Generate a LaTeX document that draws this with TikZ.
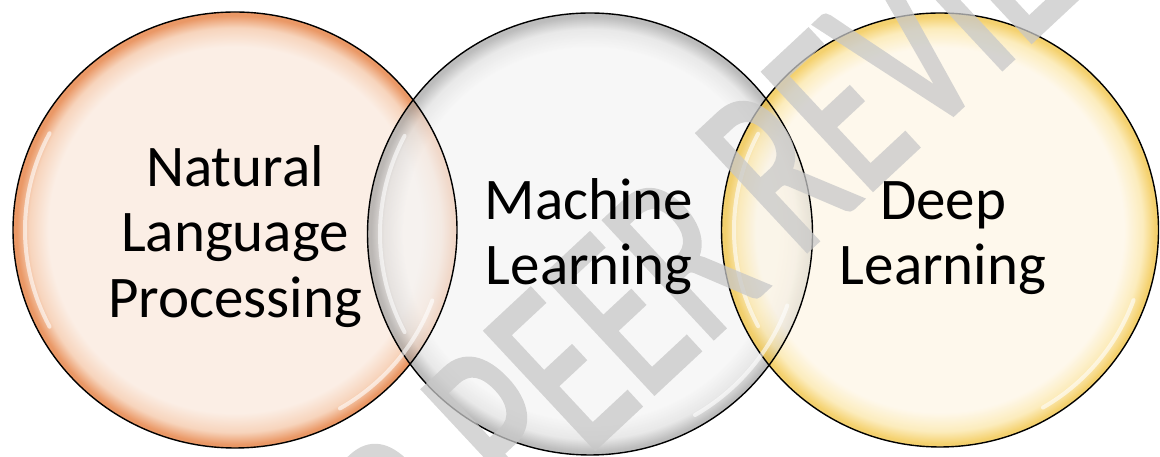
\documentclass[tikz,border=0pt]{standalone}
\usepackage{fontspec}
\setmainfont{Carlito}
\newfontfamily\wmfont[FakeBold=2]{Carlito}
\usetikzlibrary{shapes.geometric}
\definecolor{oin}{RGB}{251,238,229}
\definecolor{omid}{RGB}{247,212,188}
\definecolor{orim}{RGB}{234,152,102}
\definecolor{gin}{RGB}{244,244,244}
\definecolor{gmid}{RGB}{222,222,222}
\definecolor{grim}{RGB}{160,160,160}
\definecolor{yin}{RGB}{253,245,228}
\definecolor{ymid}{RGB}{251,228,160}
\definecolor{yrim}{RGB}{240,190,50}
\definecolor{wm}{RGB}{200,200,200}
\pgfdeclareradialshading{orangeglass}{\pgfpoint{0bp}{0bp}}{color(0bp)=(oin); color(21bp)=(oin); color(23.2bp)=(omid); color(24.6bp)=(orim); color(25bp)=(orim); color(50bp)=(orim)}
\pgfdeclareradialshading{grayglass}{\pgfpoint{0bp}{0bp}}{color(0bp)=(gin); color(21bp)=(gin); color(23.2bp)=(gmid); color(24.6bp)=(grim); color(25bp)=(grim); color(50bp)=(grim)}
\pgfdeclareradialshading{yellowglass}{\pgfpoint{0bp}{0bp}}{color(0bp)=(yin); color(21bp)=(yin); color(23.2bp)=(ymid); color(24.6bp)=(yrim); color(25bp)=(yrim); color(50bp)=(yrim)}
\begin{document}
\begin{tikzpicture}[x=1pt,y=1pt,
  bubble/.style={ellipse, inner sep=0pt, outer sep=0pt},
  rim/.style={draw=black, line width=1.4pt},
  lbl/.style={font=\fontsize{59}{65}\selectfont, inner sep=0pt, anchor=base, text=black},
  gloss/.style={white, line width=4pt, line cap=round, opacity=0.6},
  wmtext/.style={font=\wmfont\fontsize{166}{166}\selectfont, text=wm, inner sep=0pt}]
\useasboundingbox (0,0) rectangle (1160,457);
\clip (0,0) rectangle (1160,457);
% circle fills
\node[bubble, shading=orangeglass, minimum width=444pt, minimum height=436pt] (nlp) at (235,227) {};
\node[bubble, shading=grayglass, fill opacity=0.7, minimum width=445pt, minimum height=442pt] (ml) at (590,223) {};
\node[bubble, shading=yellowglass, fill opacity=0.7, minimum width=437pt, minimum height=434pt] (dl) at (940,227) {};
% borders
\draw[rim] (nlp.center) ellipse[x radius=222, y radius=218];
\draw[rim] (ml.center) ellipse[x radius=222.5, y radius=221];
\draw[rim] (dl.center) ellipse[x radius=218.5, y radius=217];
% gloss highlights
\draw[gloss] (nlp.center) ++(152:210 and 206) arc[start angle=152, end angle=208, x radius=210, y radius=206];
\draw[gloss] (nlp.center) ++(300:210 and 206) arc[start angle=300, end angle=340, x radius=210, y radius=206];
\draw[gloss] (ml.center) ++(152:210 and 209) arc[start angle=152, end angle=208, x radius=210, y radius=209];
\draw[gloss] (ml.center) ++(300:210 and 209) arc[start angle=300, end angle=340, x radius=210, y radius=209];
\draw[gloss] (dl.center) ++(152:206 and 205) arc[start angle=152, end angle=208, x radius=206, y radius=205];
\draw[gloss] (dl.center) ++(300:206 and 205) arc[start angle=300, end angle=340, x radius=206, y radius=205];
% watermark
\begin{scope}[transparency group, opacity=0.75]
\begin{scope}[shift={(688,205)}, rotate=43, yscale=1.5]
\node[wmtext, transform shape] (wmark) at (0,0) {FOR PEER REVIEW};
\end{scope}
\end{scope}
% labels
\node[lbl] (nlp1) at (235,270) {Natural};
\node[lbl] (nlp2) at (235,205) {Language};
\node[lbl] (nlp3) at (235,139) {Processing};
\node[lbl] (ml1) at (589,237) {Machine};
\node[lbl] (ml2) at (589,172) {Learning};
\node[lbl] (dl1) at (943,237) {Deep};
\node[lbl] (dl2) at (943,172) {Learning};
\end{tikzpicture}
\end{document}
